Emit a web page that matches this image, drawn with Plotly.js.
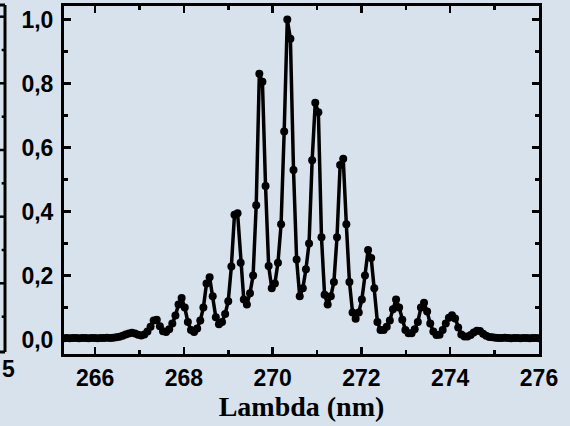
<!DOCTYPE html>
<html>
<head>
<meta charset="utf-8">
<script src="https://cdn.plot.ly/plotly-3.0.1.min.js"></script>
<style>
html,body{margin:0;padding:0;background:#d8e2ed;}
#chart{width:570px;height:426px;}
</style>
</head>
<body>
<div id="chart"></div>
<script>
// Wavelength (nm)
const lambda = [
265.29,265.36,265.43,265.50,265.57,265.64,265.71,265.78,265.85,265.92,
265.99,266.06,266.13,266.20,266.27,266.34,266.41,266.48,266.55,266.62,
266.69,266.76,266.83,266.90,266.97,267.04,267.11,267.18,267.25,267.32,
267.39,267.46,267.53,267.60,267.67,267.74,267.81,267.88,267.95,268.02,
268.09,268.16,268.23,268.30,268.37,268.44,268.51,268.58,268.65,268.72,
268.79,268.86,268.93,269.00,269.07,269.14,269.21,269.28,269.35,269.42,
269.49,269.56,269.63,269.70,269.77,269.84,269.91,269.98,270.05,270.12,
270.19,270.26,270.33,270.40,270.47,270.54,270.61,270.68,270.75,270.82,
270.89,270.96,271.03,271.10,271.17,271.24,271.31,271.38,271.45,271.52,
271.59,271.66,271.73,271.80,271.87,271.94,272.01,272.08,272.15,272.22,
272.29,272.36,272.43,272.50,272.57,272.64,272.71,272.78,272.85,272.92,
272.99,273.06,273.13,273.20,273.27,273.34,273.41,273.48,273.55,273.62,
273.69,273.76,273.83,273.90,273.97,274.04,274.11,274.18,274.25,274.32,
274.39,274.46,274.53,274.60,274.67,274.74,274.81,274.88,274.95,275.02,
275.09,275.16,275.23,275.30,275.37,275.44,275.51,275.58,275.65,275.72,
275.79,275.86,275.93,276.00
];
// Normalised intensity
const intensity = [
0.004,0.005,0.004,0.005,0.005,0.004,0.005,0.005,0.004,0.005,0.005,0.004,0.005,0.005,0.006,0.005,
0.006,0.007,0.009,0.012,0.016,0.019,0.021,0.019,0.015,0.013,0.016,
0.025,0.040,0.060,0.062,0.042,0.026,0.024,0.032,0.050,0.075,0.110,
0.130,0.100,0.055,0.030,0.024,0.035,0.060,0.100,0.175,0.195,0.135,0.070,0.048,
0.055,0.080,0.120,0.228,0.390,0.395,0.240,0.125,0.110,0.145,0.200,0.420,
0.830,0.805,0.480,0.230,0.160,0.175,0.240,0.360,0.650,1.000,0.940,0.530,0.250,
0.135,0.160,0.220,0.300,0.560,0.740,0.710,0.320,0.140,0.110,0.135,0.180,0.320,
0.545,0.565,0.360,0.180,0.085,0.065,0.085,0.125,0.200,0.280,0.255,0.160,0.055,0.030,0.030,
0.040,0.060,0.095,0.125,0.100,0.062,0.030,0.020,0.020,0.032,0.055,0.100,0.115,0.088,0.050,0.025,0.014,0.015,
0.030,0.050,0.068,0.076,0.066,0.038,0.016,0.010,0.010,0.014,0.022,0.028,0.027,0.018,0.012,0.008,0.007,
0.006,0.005,0.005,0.006,0.005,0.004,0.005,0.005,0.004,0.005,0.005,0.004,0.005,0.005,0.004
];
const xTicks = [266, 268, 270, 272, 274, 276];
const yTicks = [0.0, 0.2, 0.4, 0.6, 0.8, 1.0];
const xTitle = 'Lambda (nm)';
const neighbourLabel = '5';

const bg = '#d8e2ed';
const tickFont = {family: 'Liberation Sans, Arial, sans-serif', size: 23, color: '#000', weight: 'bold'};

// Cropped neighbouring panel at the far left (decoration only)
const L = -0.1242; // paper x of the neighbour's right frame
const shapes = [
  {type:'line', xref:'paper', yref:'paper', x0:L, x1:L, y0:0.006, y1:1.003, line:{color:'#000', width:3}},
  {type:'line', xref:'paper', yref:'paper', x0:-0.2, x1:L, y0:1.003, y1:1.003, line:{color:'#000', width:3}},
  {type:'line', xref:'paper', yref:'paper', x0:-0.2, x1:L, y0:0.006, y1:0.006, line:{color:'#000', width:3}}
];
[16.7,83.3,150,216.7,283.3].forEach(py => shapes.push({type:'line', xref:'paper', yref:'paper',
  x0:L-0.013, x1:L, y0:(354-py)/348, y1:(354-py)/348, line:{color:'#000', width:2.5}}));
[50,116.7,183.3,250,316.7].forEach(py => shapes.push({type:'line', xref:'paper', yref:'paper',
  x0:L-0.007, x1:L, y0:(354-py)/348, y1:(354-py)/348, line:{color:'#000', width:2.5}}));

const trace = {
  x: lambda, y: intensity, type: 'scatter', mode: 'lines+markers',
  line: {color: '#000', width: 3.5},
  marker: {color: '#000', size: 8},
  cliponaxis: true, hoverinfo: 'skip'
};

const axisCommon = {
  showline: true, linecolor: '#000', linewidth: 3, mirror: 'allticks',
  ticks: 'inside', ticklen: 7, tickwidth: 2.5, tickcolor: '#000',
  showgrid: false, zeroline: false, tickfont: tickFont
};

const layout = {
  width: 570, height: 426,
  paper_bgcolor: bg, plot_bgcolor: bg,
  separators: ',.',
  margin: {l: 64, r: 31, t: 6, b: 72},
  showlegend: false,
  shapes: shapes,
  annotations: [{xref:'paper', yref:'paper', x:(1-64)/475, y:(354-369)/348, xanchor:'left', yanchor:'middle',
    text: neighbourLabel, showarrow:false, font: tickFont, borderpad: 0}],
  xaxis: Object.assign({}, axisCommon, {
    range: [265.3, 276], tickmode: 'array', tickvals: xTicks, ticktext: xTicks.map(String),
    ticklabelstandoff: 1,
    minor: {ticks:'inside', ticklen: 4, tickwidth: 2.5, tickcolor:'#000', dtick: 1, tick0: 265},
    title: {text: xTitle, font: {family: 'Liberation Serif, Times New Roman, serif', size: 28, color: '#000', weight: 'bold'}, standoff: 2}
  }),
  yaxis: Object.assign({}, axisCommon, {
    range: [-0.045, 1.042], tickmode: 'array', tickvals: yTicks, ticktext: yTicks.map(v => v.toFixed(1).replace('.', ',')),
    ticklabelstandoff: 3,
    minor: {ticks:'inside', ticklen: 4, tickwidth: 2.5, tickcolor:'#000', dtick: 0.1, tick0: 0}
  })
};

Plotly.newPlot('chart', [trace], layout, {displayModeBar: false, staticPlot: true});
</script>
</body>
</html>
